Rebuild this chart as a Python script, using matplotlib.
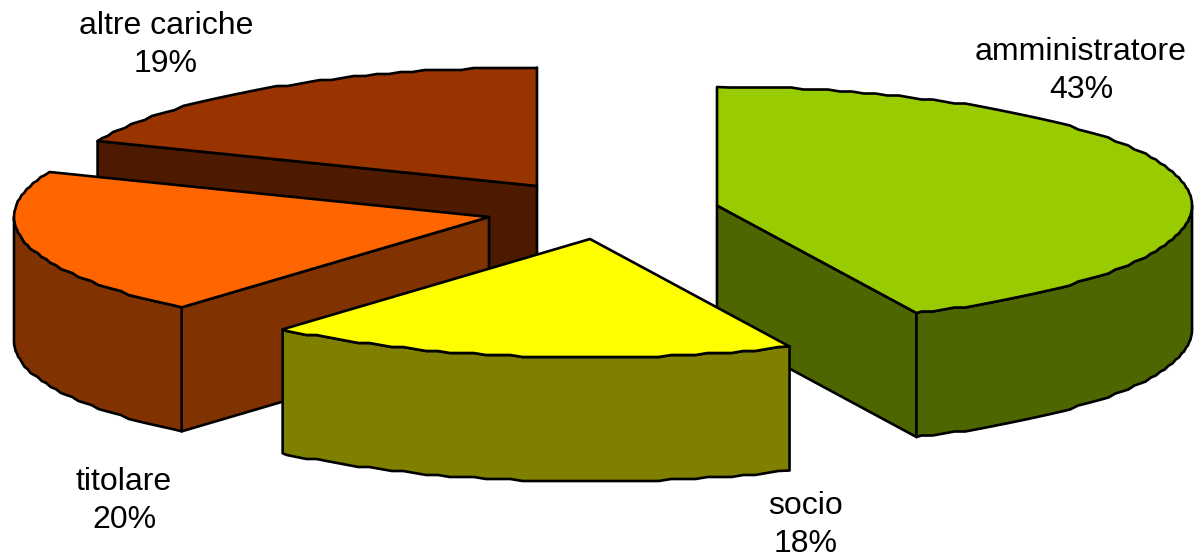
import numpy as np
import matplotlib
matplotlib.use('Agg')
import matplotlib.pyplot as plt
from matplotlib.patches import Polygon

# dati (quote stimate dagli angoli delle fette, in etichetta vanno arrotondate)
labels = ['amministratore', 'socio', 'titolare', 'altre cariche']
percent = [43.1, 18.1, 20.0, 18.8]

# colori: faccia superiore / pareti
top_colors = ['#99CC00', '#FFFF00', '#FF6600', '#993300']
side_colors = ['#4D6600', '#808000', '#803300', '#4D1A00']

# centro di ogni fetta esplosa (pixel), geometria del disco
centers = [(717, 205.5), (590, 239), (489, 217), (537, 186)]
label_pos = [(1081, 71), (806, 525), (124, 501), (166, 45)]
RX, RY, DEPTH = 475, 118.5, 124
STEP = 2  # scalettatura del bordo, come nell'originale
LW = 1.9

plt.rcParams['font.family'] = ['Liberation Sans', 'DejaVu Sans']

fig = plt.figure(figsize=(11.94, 5.6), dpi=100)
ax = fig.add_axes([0, 0, 1, 1])
ax.set_xlim(0, 1194)
ax.set_ylim(560, 0)
ax.axis('off')


def rim_point(cx, cy, t):
    r = np.radians(t)
    return np.array([cx + RX * np.sin(r), cy - RY * np.cos(r)])


def arc(cx, cy, t1, t2):
    # angoli in gradi, da ore 12 in senso orario
    t = np.radians(np.arange(t1, t2, 1.5).tolist() + [t2])
    x = cx + RX * np.sin(t)
    y = cy - RY * np.cos(t)
    inner = np.round((y[1:-1] - cy) / STEP) * STEP + cy
    y = np.concatenate([y[:1], inner, y[-1:]])
    return np.column_stack([x, y])


def poly(pts, color, z):
    ax.add_patch(Polygon(pts, closed=True, facecolor=color, edgecolor='black',
                         linewidth=LW, joinstyle='round', zorder=z))


bounds = np.concatenate([[0], np.cumsum(percent)]) * 3.6
draw_order = [3, 2, 0, 1]

for z, i in enumerate(draw_order):
    cx, cy = centers[i]
    t1, t2 = bounds[i], bounds[i + 1]
    z0 = z * 10
    apex = np.array([cx, cy])
    down = np.array([0, DEPTH])

    # pareti radiali visibili
    for t, visible in ((t1, np.sin(np.radians(t1)) < -1e-6),
                       (t2, np.sin(np.radians(t2)) > 1e-6)):
        if visible:
            rim = rim_point(cx, cy, t)
            poly([apex, rim, rim + down, apex + down], side_colors[i], z0 + 1)

    # parete esterna, solo la metà anteriore
    a, b = max(t1, 90), min(t2, 270)
    if a < b:
        edge = arc(cx, cy, a, b)
        poly(np.vstack([edge, (edge + down)[::-1]]), side_colors[i], z0 + 2)

    # faccia superiore
    poly(np.vstack([apex, arc(cx, cy, t1, t2)]), top_colors[i], z0 + 3)

for name, p, (x, y) in zip(labels, percent, label_pos):
    ax.text(x, y, f'{name}\n{p:.0f}%', ha='center', va='center', fontsize=23,
            linespacing=1.38, color='black', zorder=100)

fig.savefig('out.png', dpi=100)
